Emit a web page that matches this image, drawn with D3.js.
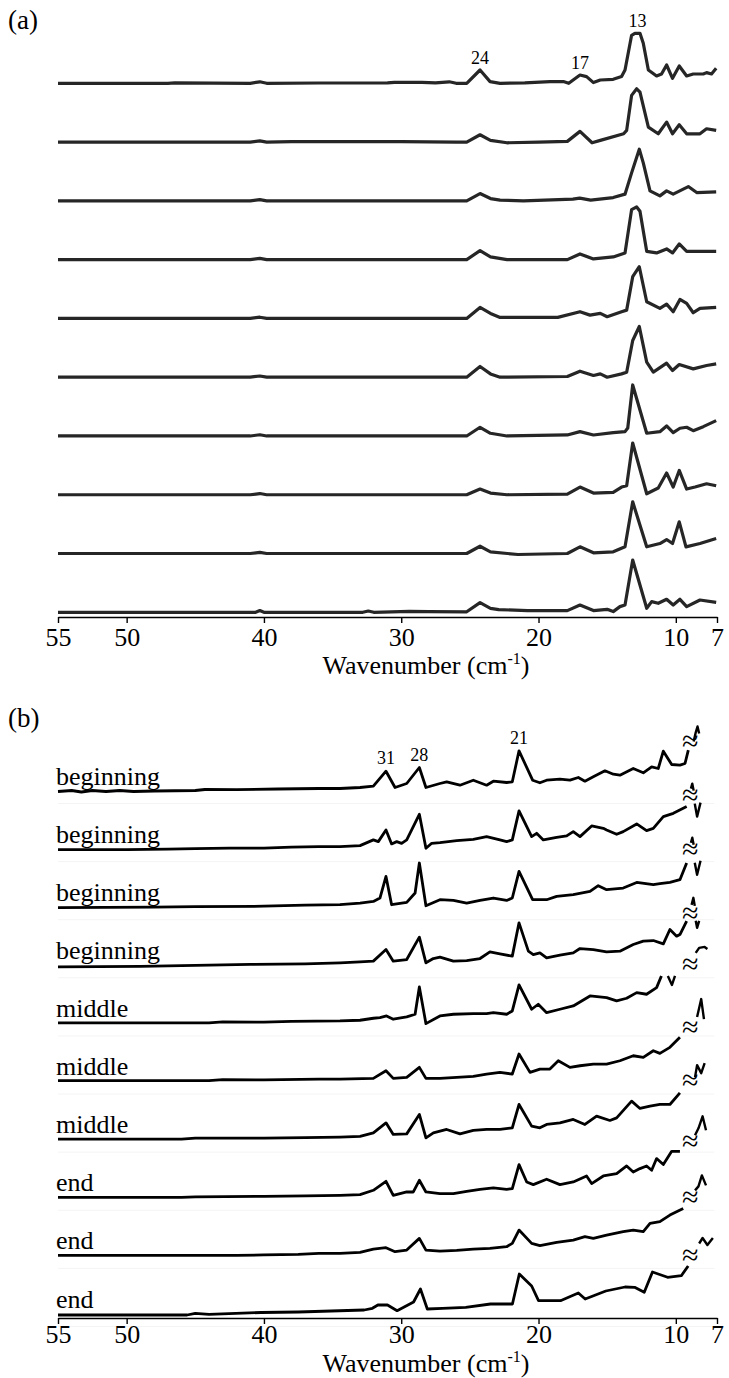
<!DOCTYPE html>
<html>
<head>
<meta charset="utf-8">
<script src="https://cdn.jsdelivr.net/npm/d3@7"></script>
<style>
  body { margin: 0; background: #fff; }
  svg { display: block; }
  text { font-family: "Liberation Serif", "Times New Roman", "DejaVu Serif", serif; fill: #000; }
</style>
</head>
<body>
<svg id="chart" width="729" height="1378"></svg>
<script>
// Wavenumber axis (cm-1), drawn high to low
const wavenumberTicks = [55, 50, 40, 30, 20, 10, 7];

// ---- Panel (a): ten spectra, [wavenumber, intensity] ----
const specA1 = [[55,0],[47,0],[46.5,0.5],[41,0],[40.3,1.5],[39.8,0],[36,0.3],[31,0.5],[30.5,1],[28.5,1],[27.5,0.5],[26.5,1.5],[26,0],[25.23,0],[24.26,13.3],[23.53,1.7],[22.8,0],[21,0.5],[19.16,1.7],[18.19,1.7],[17.8,0],[16.98,8.3],[16.5,6.7],[16.0,0.7],[15.5,3.3],[14.56,4],[13.95,6.7],[13.7,13.3],[13.22,48],[12.98,50],[12.61,50],[12.37,40],[12.0,13.3],[11.4,7.3],[11.04,9.3],[10.67,18.3],[10.24,5],[9.75,17.3],[9.21,7.3],[8.73,9.3],[8.0,9.3],[7.76,10.7],[7.4,9.3],[7.06,15]];
const specA2 = [[55,0],[41,0],[40.3,1.2],[39.8,0],[38,0.5],[30,0.5],[26,0],[25.23,0],[24.26,7.3],[23.5,1.7],[22.3,-0.7],[20,0],[17.9,0.7],[16.98,10.7],[16.1,-0.7],[15.5,1.7],[13.8,8.3],[13.58,11.7],[13.22,46.7],[12.85,53.3],[12.61,50],[12.0,15],[11.28,8.3],[10.67,20],[10.24,8.3],[9.75,17.3],[9.21,8.3],[8.24,8.3],[7.76,13.3],[7.06,11.7]];
const specA3 = [[55,0],[41,0],[40.3,1.2],[39.8,0],[26,0],[25.23,0],[24.26,7.3],[23.5,2.3],[22.8,0.7],[21.1,0],[17.5,1.7],[17.0,2.7],[16.2,0.7],[14.56,3.3],[13.7,6.7],[13.22,28],[12.66,51.7],[12.37,38],[11.88,10],[11.16,5],[10.67,10],[10.19,6.7],[9.09,14.3],[8.48,8.3],[7.06,9]];
const specA4 = [[55,0],[41,0],[40.3,1.2],[39.8,0],[26,0],[25.23,0],[24.26,9],[23.5,2.7],[22.3,0],[17.9,0],[16.98,5.7],[16.0,0.7],[14.56,2.7],[13.7,6.7],[13.22,50],[12.85,52.7],[12.61,48.3],[12.12,8.3],[11.4,6.7],[10.67,10.7],[10.24,6.7],[9.75,15.7],[9.21,8.3],[7.06,8.3]];
const specA5 = [[55,0],[41,0],[40.3,1.2],[39.8,0],[26,0],[25.23,0],[24.26,11],[23.5,5],[22.8,1],[18.6,1],[16.98,6.7],[16.25,3.3],[15.5,5],[15.0,1.7],[13.95,6.7],[13.58,8.3],[13.14,41.7],[12.66,51.7],[12.12,16.7],[11.16,10],[10.67,14.3],[10.19,6.7],[9.7,19],[9.21,15],[8.73,5.7],[8.24,10],[7.06,11]];
const specA6 = [[55,0],[41,0],[40.3,1.2],[39.8,0],[26,0],[25.23,0],[24.26,10.7],[23.5,3.3],[22.8,0],[17.9,0.7],[16.98,6],[16.0,1.7],[15.5,3.3],[15.0,0],[13.95,3.3],[13.58,5],[13.14,36.7],[12.66,50.7],[12.12,15],[11.64,5],[10.67,14],[10.24,6.7],[9.75,12.7],[8.73,8.3],[7.76,11.7],[7.06,13.3]];
const specA7 = [[55,0],[41,0],[40.3,1.2],[39.8,0],[26,0],[25.23,0],[24.26,8.7],[23.5,2.7],[22.3,0],[17.9,1],[16.98,4.3],[16.0,1],[14.56,3.3],[13.7,4.3],[13.5,8],[13.14,51],[12.12,2.7],[11.16,4.3],[10.67,10],[10.19,3.3],[9.7,7.7],[9.21,8.7],[8.73,5.3],[8.0,9.3],[7.06,15.3]];
const specA8 = [[55,0],[41,0],[40.3,1.2],[39.8,0],[26,0],[25.23,0],[24.26,5.7],[23.5,1.7],[22.3,0],[17.9,0.7],[16.98,7.7],[16.0,1.7],[14.56,2.3],[13.95,7.7],[13.58,9],[13.14,51.7],[12.12,1],[11.28,6.7],[10.67,21.7],[10.19,7.7],[9.75,24.3],[9.21,5.7],[8.6,7.7],[7.76,11],[7.06,9]];
const specA9 = [[55,0],[41,0],[40.3,1.2],[39.8,0],[26,0],[25.23,0],[24.26,7.3],[23.5,1.7],[21.5,-1],[17.9,0],[16.98,6.7],[16.0,0.7],[14.56,1.7],[13.7,6.7],[13.14,51.7],[12.12,6.7],[11.16,10],[10.67,14],[10.24,10],[9.75,31.7],[9.26,6.7],[8.24,10],[7.06,15]];
const specA10 = [[55,0],[40.6,0],[40.3,1.7],[40,0],[32.8,0],[32.4,1.3],[32,0],[29.4,1],[28,0.7],[25.23,0.5],[24.26,9.7],[23.5,4],[22.9,2.7],[20.8,1.7],[17.9,1.7],[16.98,7.3],[16.0,1.7],[15.0,3],[14.56,0.7],[14.07,5.7],[13.7,7.3],[13.14,52.3],[12.12,4],[11.76,10.7],[11.28,9],[10.67,13],[10.19,7.3],[9.7,13],[9.21,5.7],[8.24,12.3],[7.06,10]];
const peakLabelsA = [24, 17, 13];

// ---- Panel (b): ten spectra up to the axis break ----
const specB1 = [[55,-3],[54,-2],[53.3,-3.5],[52.5,-2],[51.5,-3],[50.5,-2],[49.5,-3],[48,-2.5],[45,-2],[44.3,-1],[42,-1.2],[39,-0.5],[36,0],[34.46,0],[33,1],[32.03,2.3],[31.11,17.3],[30.45,1],[29.6,5],[28.68,21],[28.2,1],[27.18,5],[26.69,6.7],[25.72,3.3],[24.75,8.3],[23.78,3.3],[23.29,7.3],[22.32,6],[21.91,6.7],[21.42,37.7],[20.43,8.3],[19.9,5.7],[19.41,8.3],[18.44,9.3],[17.71,8.3],[17.1,11],[16.62,7.3],[16.01,11.7],[15.16,17.7],[14.55,14.3],[14.07,13.3],[13.1,20],[12.37,15.7],[11.76,21.7],[11.28,20],[10.91,37.3],[10.3,24],[9.7,23.3],[9.33,25],[9.09,38.3]];
const specB2 = [[55,-3],[50,-3],[47,-2.5],[45,-2],[42.5,-1.5],[40,-1.5],[38,-0.5],[36,0],[34.46,0],[33,1],[32.03,6.7],[31.67,5],[31.11,16.7],[30.7,2.7],[30.33,5],[29.97,3.3],[29.6,6.7],[28.68,32.3],[28.2,-1.7],[27.78,3.3],[27.18,4],[25.96,6],[24.75,7.3],[23.78,10],[22.81,6.7],[22.32,5],[21.91,6.7],[21.42,35.7],[20.5,10],[20.14,13.3],[19.65,6.7],[18.68,9.3],[17.95,10.7],[17.47,15],[16.98,10],[16.13,20.7],[15.28,18.3],[15.04,16.7],[14.31,12.3],[13.83,15],[12.85,22.7],[12.13,16],[11.64,18.3],[10.91,30],[10.18,33.3],[9.21,40]];
const specB3 = [[55,-3],[48,-2.5],[45,-2],[40,-1.5],[37,-0.5],[34.46,0],[33,1.7],[32.03,3.3],[31.55,6.7],[31.11,28.3],[30.7,0],[29.6,2.3],[28.99,11.7],[28.68,41.7],[28.2,-1],[27.18,5],[26.2,4.3],[25.23,1.7],[24.26,4.3],[23.29,6.7],[22.32,4.3],[21.91,6.7],[21.42,33.3],[20.43,5],[19.41,5],[18.68,8.3],[17.47,10],[16.25,13.3],[15.65,19],[15.04,15],[13.83,16.7],[12.85,22.3],[11.64,20],[11.16,21],[10.43,22.3],[9.7,25],[9.21,41.7]];
const specB4 = [[55,-4],[49,-3.5],[45,-2.5],[41,-1.5],[37,-1],[34.46,0],[33,1],[32.03,1.7],[31.11,13.3],[30.58,1.7],[29.6,3.3],[28.68,25.7],[28.2,0],[27.66,4.3],[27.18,5.7],[26.2,1.7],[25.23,2.3],[24.26,4.3],[23.54,11],[22.81,9],[21.91,6.7],[21.42,40],[20.74,11.7],[20.38,8.3],[19.9,10],[19.41,5],[18.44,7.7],[17.47,10],[16.98,14.3],[16.01,13.3],[15.04,11],[14.07,11.7],[13.1,18.3],[12.37,21.7],[11.64,22.3],[10.91,19],[10.43,33.3],[9.94,26.7],[9.7,28.3],[9.21,41.7]];
const specB5 = [[55,-2],[44,-2],[43,-1],[40,-1.2],[38,-0.5],[34.46,0],[33,0.7],[32.03,2.7],[31.55,3.3],[31.07,5],[30.58,1.7],[29.6,4],[28.99,6.7],[28.68,34],[28.2,-2.7],[27.18,5],[26.2,6.7],[24.75,7.3],[23.78,7.3],[23.29,8.3],[22.32,6.7],[21.91,10],[21.42,36],[20.5,11.7],[20.02,16.7],[19.41,8.3],[18.44,11.7],[17.47,15],[16.25,25],[15.04,23.3],[14.31,20],[13.58,22.7],[12.85,28.3],[12.13,26.7],[11.4,33.3],[11.05,45]];
const specB6 = [[55,-1.5],[44,-1.5],[43,-0.5],[40,-0.8],[36,0],[34.46,0],[32.03,0.7],[31.11,8.3],[30.58,0.7],[29.6,1.7],[28.68,11.7],[28.2,0.7],[27.18,0.7],[25.96,1.7],[24.75,2.7],[23.78,5],[22.81,6.7],[21.91,5],[21.42,25],[20.62,6.7],[19.9,10],[19.17,10],[18.56,18.3],[17.71,11.7],[16.98,13.3],[16.01,15],[15.04,15],[14.07,18.3],[13.1,23.3],[12.37,21.7],[11.64,28.3],[11.16,25.7],[10.43,31.7],[9.7,41.7]];
const specB7 = [[55,-2],[46,-2],[45,-1],[40,-1],[37,-0.5],[34.46,0],[33,0.7],[32.03,4.3],[31.11,14.3],[30.58,2.7],[29.6,3.3],[28.68,22.7],[28.2,-0.7],[27.66,4.3],[26.69,7.7],[25.72,3.3],[24.75,6.7],[23.78,7.7],[22.81,7.7],[21.91,9.3],[21.42,32.7],[20.5,11],[19.9,9.3],[19.41,12.7],[18.44,14.3],[17.47,17.7],[16.62,12.7],[15.77,21],[14.8,16.7],[14.31,19.3],[13.22,36],[12.61,28.7],[11.88,31],[11.16,32.7],[10.43,32.7],[9.7,44.3]];
const specB8 = [[55,-2],[46,-2],[45,-1.5],[40,-1],[37,-0.5],[34.46,0],[33,0.7],[32.03,5],[31.11,14],[30.58,0],[29.6,3.3],[29.12,3.3],[28.68,15],[28.2,3.3],[27.18,1.7],[26.2,1.7],[25.23,4],[24.26,6],[23.29,7.3],[22.32,6],[21.91,6.7],[21.42,30.7],[20.86,13.3],[20.38,10.7],[19.41,16],[18.44,10.7],[17.47,13.3],[16.5,19.3],[16.13,11.7],[15.28,19.3],[14.31,21.7],[13.58,29.3],[13.1,23.3],[12.61,26.7],[12.13,29.3],[11.76,25],[11.4,36.7],[10.91,30.7],[10.3,44],[9.7,44]];
const specB9 = [[55,-2],[42,-2],[40,-1.5],[37.5,-1],[36,0],[34.46,0],[33,1],[32.03,4.3],[31.11,5.7],[30.45,1.7],[29.6,3.3],[28.68,15],[28.2,3.3],[27.18,2.3],[25.96,3],[24.75,4.3],[23.54,5],[22.32,6.7],[21.91,10],[21.42,23.3],[20.5,10],[19.9,7.7],[18.68,11],[17.47,13.3],[16.62,16.7],[16.01,15],[15.04,18.3],[13.83,21.7],[13.1,23.3],[12.37,21.7],[11.88,30],[11.16,31.7],[10.43,38.3],[9.46,45]];
const specB10 = [[55,-3.5],[45.6,-3.5],[45,-1.8],[44,-2.8],[40.2,-1],[37.5,-0.5],[32.7,1.5],[32.1,3.2],[31.7,6.5],[31,6.5],[30.3,0.8],[29.1,9.5],[28.6,22.5],[28.1,2.5],[27,3.2],[25.3,4.2],[23.5,7.5],[21.9,7.5],[21.4,37.5],[20.5,25.5],[20,10.8],[18.4,10.8],[17.1,18.5],[16.6,12.5],[15.1,20.5],[13.7,24.5],[13,24.2],[12.3,19.2],[11.7,39.5],[10.6,34.2],[9.6,35.8],[9.1,45.5]];

// Short pieces shown beyond the axis break
const tailB1 = [[[8.7,47],[8.55,56],[8.42,62],[8.3,55]]];
const tailB2 = [[[8.9,58],[8.8,63],[8.7,56]], [[8.62,43],[8.45,30],[8.2,44]]];
const tailB3 = [[[8.9,62],[8.8,67],[8.7,60]], [[8.62,42],[8.45,30],[8.2,44]]];
const tailB4 = [[[8.85,58],[8.72,65],[8.62,57]], [[8.55,42],[8.45,35],[8.3,42]]];
const tailB5 = [[[10.58,45],[10.28,36],[10.06,45]], [[8.55,68],[8.3,73],[7.9,74],[7.7,72]]];
const tailB6 = [[[8.45,62],[8.15,80],[7.95,60]]];
const tailB7 = [[[8.6,60],[8.45,72],[8.15,64],[7.9,74]]];
const tailB8 = [[[8.6,60],[8.35,67],[8.05,79],[7.8,65]]];
const tailB9 = [[[8.6,63],[8.35,67],[8.1,78],[7.8,68]]];
const tailB10 = [[[8.3,68],[8.05,73.5],[7.7,66.5],[7.3,73.5]]];
const breakLevelsB = [48, 52, 56, 50, 57, 53, 58, 55, 57, 57];
const breakWavenumber = 8.95;

const stageLabels = ["beginning", "beginning", "beginning", "beginning", "middle", "middle", "middle", "end", "end", "end"];
const peakLabelsB = [31, 28, 21];

const spectraA = [specA1, specA2, specA3, specA4, specA5, specA6, specA7, specA8, specA9, specA10];
const spectraB = [specB1, specB2, specB3, specB4, specB5, specB6, specB7, specB8, specB9, specB10];
const tailsB = [tailB1, tailB2, tailB3, tailB4, tailB5, tailB6, tailB7, tailB8, tailB9, tailB10];

// ---- Scales ----
const svg = d3.select("#chart");
const x = d3.scaleLinear().domain([55, 7]).range([58, 717]);
const amp = d3.scaleLinear().domain([0, 100]).range([0, 100]);      // intensity -> px rise
const rowA = d3.scaleLinear().domain([0, 9]).range([83.3, 612.3]);   // baseline of each trace
const rowB = d3.scaleLinear().domain([0, 9]).range([788.5, 1311.5]);

function traceLine(base) {
  return d3.line().x(d => x(d[0])).y(d => base - amp(d[1]));
}

function peakApex(spec, v) {
  const near = spec.filter(d => Math.abs(d[0] - v) <= 0.8);
  const top = d3.max(near, d => d[1]);
  const at = near.filter(d => d[1] === top);
  return [d3.mean(at, d => d[0]), top];
}

function drawAxis(yAxis, labelGap, titleBaseline) {
  const g = svg.append("g").attr("transform", `translate(0,${yAxis})`)
    .call(d3.axisBottom(x).tickValues(wavenumberTicks).tickSize(6).tickSizeOuter(0).tickFormat(d3.format("d")));
  g.select(".domain").attr("stroke", "#000").attr("stroke-width", 1.6);
  g.selectAll(".tick line").attr("stroke", "#000").attr("stroke-width", 1.4);
  g.selectAll(".tick text").attr("font-size", 26).attr("y", labelGap).attr("dy", "0.71em").attr("fill", "#000");
  const t = svg.append("text").attr("x", 426).attr("y", titleBaseline)
    .attr("text-anchor", "middle").attr("font-size", 26);
  t.append("tspan").text("Wavenumber (cm");
  t.append("tspan").text("-1").attr("font-size", 16).attr("dy", -10);
  t.append("tspan").text(")").attr("dy", 10);
}

// ---- Panel (a) ----
svg.append("text").attr("x", 8).attr("y", 29).attr("font-size", 27).text("(a)");

svg.append("g").selectAll("path").data(spectraA).join("path")
  .attr("d", (s, i) => traceLine(rowA(i))(s))
  .attr("fill", "none").attr("stroke", "#262626").attr("stroke-width", 3.2)
  .attr("stroke-linejoin", "round");

peakLabelsA.forEach(v => {
  const [w, h] = peakApex(specA1, v);
  svg.append("text").attr("x", x(w)).attr("y", rowA(0) - amp(h) - 6)
    .attr("text-anchor", "middle").attr("font-size", 18).text(v);
});

drawAxis(617, 11, 674);

// ---- Panel (b) ----
svg.append("text").attr("x", 8).attr("y", 727).attr("font-size", 27).text("(b)");

// faint strip edges under each trace
svg.append("g").selectAll("line").data(spectraB).join("line")
  .attr("x1", x(55)).attr("x2", x(7.2))
  .attr("y1", (s, i) => rowB(i) + 15).attr("y2", (s, i) => rowB(i) + 15)
  .attr("stroke", "#f4f4f4").attr("stroke-width", 1);

svg.append("g").selectAll("path").data(spectraB).join("path")
  .attr("d", (s, i) => traceLine(rowB(i))(s))
  .attr("fill", "none").attr("stroke", "#000").attr("stroke-width", 2.8)
  .attr("stroke-linejoin", "round");

tailsB.forEach((segs, i) => {
  svg.append("g").selectAll("path").data(segs).join("path")
    .attr("d", s => traceLine(rowB(i))(s))
    .attr("fill", "none").attr("stroke", "#000").attr("stroke-width", 2.4)
    .attr("stroke-linejoin", "round");
});

svg.append("g").selectAll("text").data(breakLevelsB).join("text")
  .attr("x", x(breakWavenumber)).attr("y", (h, i) => rowB(i) - amp(h))
  .attr("dy", "0.35em").attr("text-anchor", "middle").attr("font-size", 30)
  .text("\u2248");

svg.append("g").selectAll("text").data(stageLabels).join("text")
  .attr("x", 56).attr("y", (d, i) => rowB(i) - 4)
  .attr("font-size", 26).text(d => d);

peakLabelsB.forEach(v => {
  const [w, h] = peakApex(specB1, v);
  svg.append("text").attr("x", x(w)).attr("y", rowB(0) - amp(h) - 7)
    .attr("text-anchor", "middle").attr("font-size", 18).text(v);
});

drawAxis(1318, 7, 1372);
</script>
</body>
</html>
